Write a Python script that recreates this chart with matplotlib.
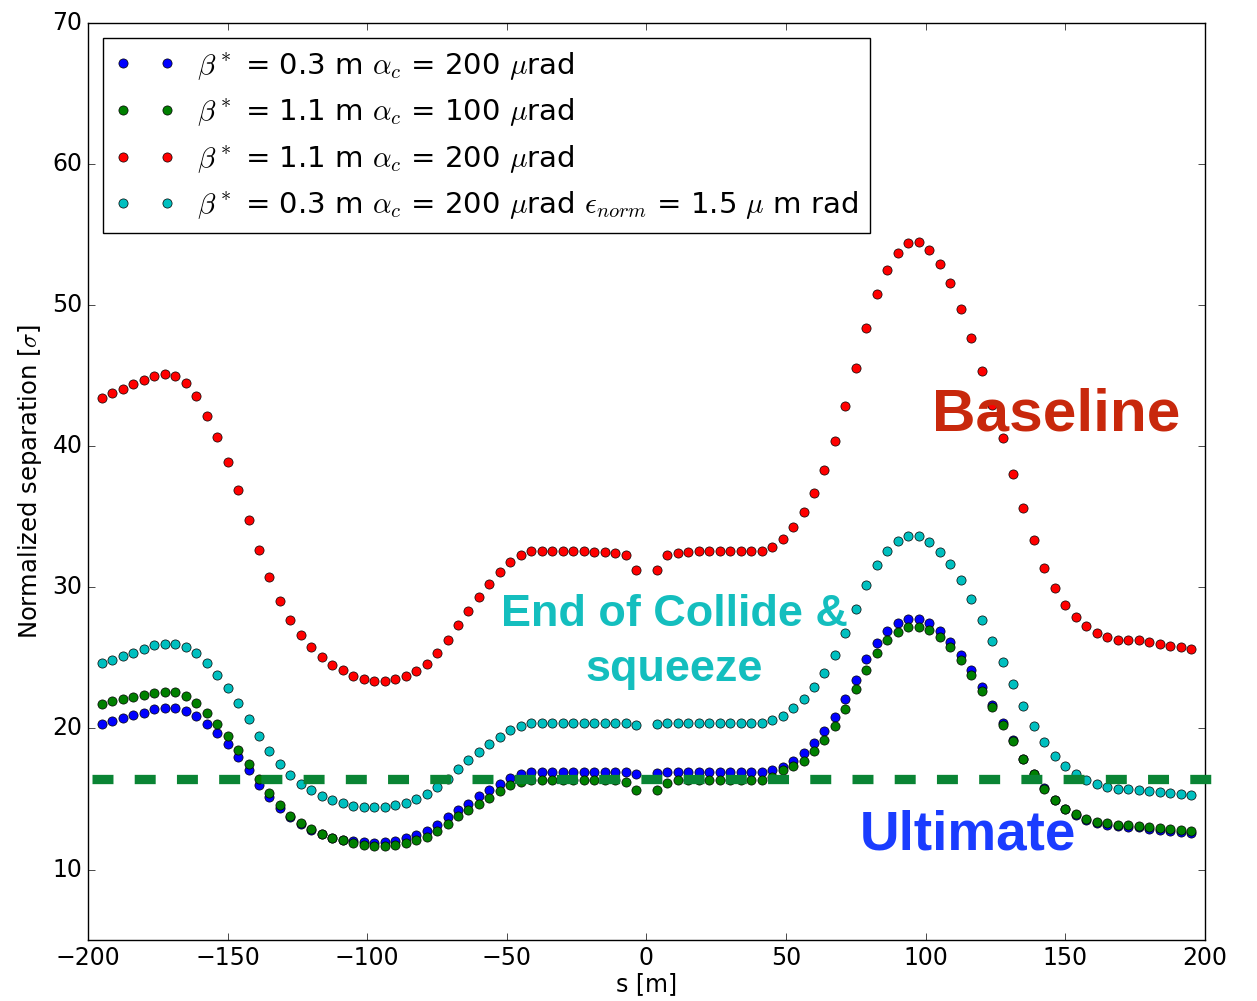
import numpy as np
import matplotlib
matplotlib.use('Agg')
import matplotlib.pyplot as plt

# sample points along s [m], 3.75 m apart, none at the IP itself
s_pos = np.concatenate([np.arange(-52, 0), np.arange(1, 53)]) * 3.75

sep_b03_a200 = [
    20.33, 20.52, 20.76, 20.94, 21.13, 21.35, 21.44, 21.44, 21.27, 20.87,
    20.30, 19.65, 18.87, 17.97, 17.03, 16.01, 15.14, 14.33, 13.70, 13.25,
    12.83, 12.49, 12.26, 12.09, 12.00, 11.93, 11.90, 11.93, 12.05, 12.21,
    12.45, 12.71, 13.17, 13.72, 14.19, 14.67, 15.18, 15.66, 16.08, 16.48,
    16.74, 16.88, 16.91, 16.91, 16.91, 16.91, 16.91, 16.91, 16.91, 16.91,
    16.91, 16.74,
    16.84, 16.88, 16.88, 16.88, 16.88, 16.88, 16.88, 16.88, 16.88, 16.88,
    16.88, 17.03, 17.28, 17.70, 18.29, 18.96, 19.79, 20.80, 22.08, 23.47,
    24.91, 26.04, 26.89, 27.46, 27.77, 27.77, 27.46, 26.89, 26.16, 25.24,
    24.16, 22.93, 21.68, 20.40, 19.15, 17.85, 16.74, 15.80, 14.95, 14.31,
    13.84, 13.48, 13.29, 13.13, 13.08, 13.04, 12.99, 12.90, 12.83, 12.75,
    12.66, 12.59,
]

sep_b11_a100 = [
    21.77, 21.94, 22.08, 22.22, 22.39, 22.55, 22.62, 22.57, 22.29, 21.79,
    21.11, 20.33, 19.46, 18.49, 17.45, 16.39, 15.42, 14.55, 13.79, 13.29,
    12.87, 12.51, 12.26, 12.07, 11.86, 11.76, 11.69, 11.69, 11.76, 11.88,
    12.12, 12.31, 12.72, 13.22, 13.77, 14.19, 14.67, 15.10, 15.56, 15.96,
    16.20, 16.32, 16.32, 16.32, 16.32, 16.32, 16.32, 16.32, 16.32, 16.32,
    16.20, 15.66,
    15.66, 16.15, 16.32, 16.32, 16.32, 16.32, 16.32, 16.32, 16.32, 16.32,
    16.32, 16.55, 17.03, 17.35, 17.68, 18.39, 19.15, 20.16, 21.39, 22.78,
    24.18, 25.38, 26.28, 26.87, 27.20, 27.22, 26.99, 26.47, 25.76, 24.86,
    23.82, 22.64, 21.51, 20.28, 19.08, 17.83, 16.74, 15.73, 14.90, 14.31,
    13.91, 13.58, 13.39, 13.27, 13.18, 13.13, 13.08, 12.99, 12.92, 12.85,
    12.80, 12.75,
]

sep_b11_a200 = [
    43.46, 43.77, 44.08, 44.41, 44.72, 45.02, 45.12, 45.02, 44.48, 43.54,
    42.19, 40.66, 38.89, 36.90, 34.80, 32.68, 30.74, 29.07, 27.70, 26.64,
    25.81, 25.10, 24.53, 24.12, 23.73, 23.52, 23.40, 23.40, 23.52, 23.71,
    24.08, 24.60, 25.36, 26.30, 27.34, 28.36, 29.30, 30.22, 31.07, 31.78,
    32.32, 32.58, 32.60, 32.60, 32.60, 32.58, 32.56, 32.53, 32.49, 32.47,
    32.27, 31.26,
    31.26, 32.27, 32.47, 32.52, 32.55, 32.56, 32.57, 32.58, 32.58, 32.58,
    32.60, 32.89, 33.43, 34.26, 35.37, 36.67, 38.32, 40.35, 42.85, 45.59,
    48.40, 50.78, 52.53, 53.71, 54.42, 54.49, 53.95, 52.91, 51.56, 49.77,
    47.71, 45.38, 42.92, 40.59, 38.06, 35.60, 33.36, 31.40, 29.94, 28.78,
    27.91, 27.25, 26.75, 26.47, 26.30, 26.28, 26.26, 26.12, 26.00, 25.88,
    25.79, 25.67,
]

sep_b03_a200_emit15 = [
    24.65, 24.89, 25.12, 25.38, 25.64, 25.90, 26.02, 26.02, 25.81, 25.33,
    24.65, 23.82, 22.88, 21.84, 20.69, 19.48, 18.39, 17.45, 16.72, 16.08,
    15.61, 15.18, 14.90, 14.69, 14.50, 14.43, 14.41, 14.43, 14.55, 14.73,
    14.98, 15.34, 15.84, 16.44, 17.12, 17.78, 18.33, 18.87, 19.39, 19.88,
    20.19, 20.38, 20.40, 20.40, 20.40, 20.40, 20.40, 20.40, 20.40, 20.40,
    20.40, 20.26,
    20.31, 20.38, 20.38, 20.38, 20.38, 20.38, 20.38, 20.38, 20.38, 20.38,
    20.38, 20.57, 20.92, 21.43, 22.10, 22.92, 23.95, 25.22, 26.75, 28.48,
    30.18, 31.57, 32.61, 33.27, 33.62, 33.62, 33.22, 32.51, 31.64, 30.50,
    29.18, 27.72, 26.23, 24.70, 23.17, 21.63, 20.21, 19.03, 18.07, 17.33,
    16.76, 16.34, 16.06, 15.84, 15.73, 15.68, 15.63, 15.59, 15.52, 15.45,
    15.38, 15.31,
]

labels = [
    r'$\beta^*$ = 0.3 m $\alpha_c$ = 200 $\mu$rad',
    r'$\beta^*$ = 1.1 m $\alpha_c$ = 100 $\mu$rad',
    r'$\beta^*$ = 1.1 m $\alpha_c$ = 200 $\mu$rad',
    r'$\beta^*$ = 0.3 m $\alpha_c$ = 200 $\mu$rad $\epsilon_{norm}$ = 1.5 $\mu$ m rad',
]

# ultimate separation limit drawn over the plot (s range of the overlay line)
limit_sigma = 16.4
limit_s = [-198.7, 202.5]

plt.style.use('classic')
plt.rcParams['font.family'] = ['DejaVu Sans']
plt.rcParams['mathtext.fontset'] = 'cm'

fig = plt.figure(figsize=(12.57, 10.01), dpi=100, facecolor='white')
ax = fig.add_axes([0.070, 0.0609, 0.8886, 0.9158])

series = [sep_b03_a200, sep_b11_a100, sep_b11_a200, sep_b03_a200_emit15]
colors = ['b', 'g', 'r', 'c']
for ys, col, lab in zip(series, colors, labels):
    ax.plot(s_pos, ys, 'o', color=col, mec='k', mew=0.5, ms=6.6, label=lab)

ax.plot(limit_s, [limit_sigma, limit_sigma], color='#0a8434', lw=6.7,
        dashes=(15.1, 15.3), clip_on=False, zorder=5)

ax.set_xlim(-200, 200)
ax.set_ylim(5, 70)
ax.set_xticks(range(-200, 201, 50))
ax.set_yticks(range(10, 71, 10))
ax.tick_params(labelsize=17, direction='in', top=True, right=True, length=5)
ax.set_xlabel('s [m]', fontsize=17, labelpad=2)
ax.set_ylabel(r'Normalized separation [$\sigma$]', fontsize=17.5, labelpad=6)

leg = ax.legend(loc='upper left', numpoints=2, fontsize=21, handlelength=2.1,
                handletextpad=0.75, borderpad=0.4, labelspacing=0.5,
                fancybox=False, framealpha=1)
leg.get_frame().set_edgecolor('k')

ax.text(146.6, 41.1, 'Baseline', color='#c8280c', fontsize=43.5,
        fontweight='bold', family='Liberation Sans', ha='center', va='baseline')
ax.text(10, 27.24, 'End of Collide &', color='#14bebe', fontsize=32.4,
        fontweight='bold', family='Liberation Sans', ha='center', va='baseline')
ax.text(10, 23.4, 'squeeze', color='#14bebe', fontsize=32.4,
        fontweight='bold', family='Liberation Sans', ha='center', va='baseline')
ax.text(115.1, 11.42, 'Ultimate', color='#1a3cff', fontsize=39.5,
        fontweight='bold', family='Liberation Sans', ha='center', va='baseline',
        zorder=6)

fig.savefig('out.png', dpi=100, facecolor='white')
